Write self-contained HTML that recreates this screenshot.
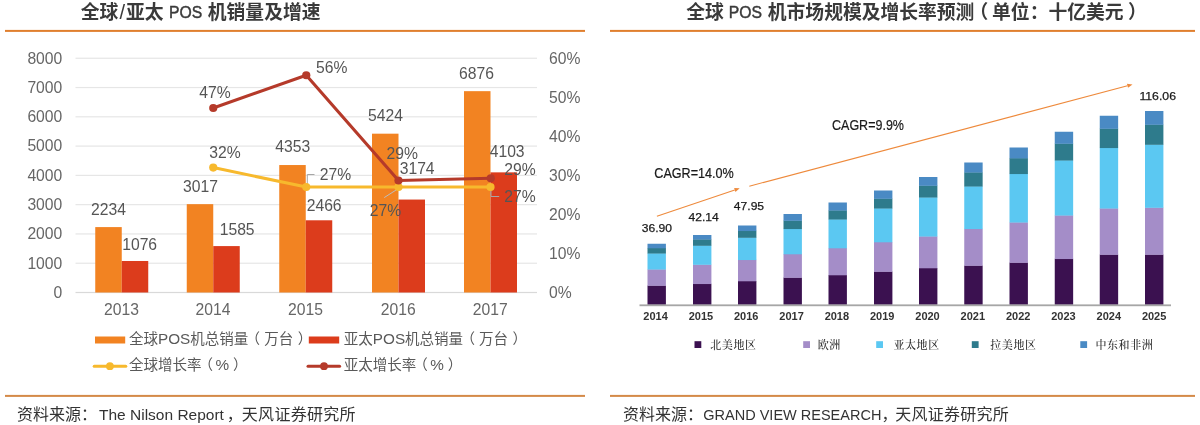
<!DOCTYPE html>
<html lang="zh"><head><meta charset="utf-8"><title>POS</title>
<style>
html,body{margin:0;padding:0;background:#fff;}
body{width:1200px;height:425px;overflow:hidden;position:relative;}
svg{position:absolute;left:0;top:0;display:block;}
text{font-family:"Liberation Sans","Noto Sans CJK SC",sans-serif;}
.t{font-size:18.8px;font-weight:bold;fill:#3a3a3a;}
.tl{font-size:17.4px;fill:#3a3a3a;font-weight:normal;stroke:#3a3a3a;stroke-width:0.45px;}
.sl2{font-size:20px;font-weight:normal;}
.src{font-size:16px;fill:#333;}
.srcl{font-size:15.5px;}
.srcr{font-size:14.5px;}
.ax{font-size:15.7px;fill:#666;}
.dl{font-size:15.7px;fill:#555;}
.lg{font-size:14.5px;fill:#595959;}
.lgl{font-size:15.3px;}
.yr{font-size:11px;font-weight:bold;fill:#333;}
.v{font-size:11.6px;fill:#1a1a1a;stroke:#1a1a1a;stroke-width:0.25px;}
.cg{font-size:14px;fill:#1a1a1a;stroke:#1a1a1a;stroke-width:0.2px;}
.sl{font-family:"Liberation Serif","Noto Serif CJK SC",serif;font-size:11px;letter-spacing:0.55px;fill:#2a2a2a;font-weight:500;}
</style></head><body>
<svg width="1200" height="425" viewBox="0 0 1200 425">

<rect x="5" y="29.9" width="580" height="2" fill="#E07F2E"/>
<rect x="5" y="394.9" width="580" height="2" fill="#D48A48"/>
<rect x="610" y="29.9" width="585" height="2" fill="#E07F2E"/>
<rect x="610" y="394.9" width="585" height="2" fill="#D48A48"/>
<text class="t" y="18.6"><tspan x="80.7">全球</tspan><tspan class="sl2" x="119.6">/</tspan><tspan x="126.1">亚太</tspan><tspan x="207.8">机销量及增速</tspan></text>
<text class="t" y="18.6"><tspan x="686.15">全球</tspan><tspan x="767.8">机市场规模及增长率预测</tspan><tspan x="969.5">（</tspan><tspan x="992.1">单位：十亿美元</tspan><tspan x="1128">）</tspan></text>
<text class="tl" transform="translate(169.0,18.3) scale(0.905,1)">POS</text>
<text class="tl" transform="translate(728.85,18.3) scale(0.905,1)">POS</text>
<text class="src" y="420.2"><tspan x="16.9">资料来源：</tspan><tspan class="srcl" x="99">The Nilson Report</tspan><tspan x="226.7">，</tspan><tspan x="241.8" letter-spacing="0.3">天风证券研究所</tspan></text>
<text class="src" y="420.2"><tspan x="622.9">资料来源：</tspan><tspan class="srcr" x="703.3">GRAND VIEW RESEARCH</tspan><tspan x="881.6">，</tspan><tspan x="895.2" letter-spacing="0.25">天风证券研究所</tspan></text>
<rect x="75.5" y="57.65" width="461.5" height="1.2" fill="#e6e6e6"/>
<text class="ax" x="62.3" y="63.65" text-anchor="end">8000</text>
<rect x="75.5" y="86.93" width="461.5" height="1.2" fill="#e6e6e6"/>
<text class="ax" x="62.3" y="92.93" text-anchor="end">7000</text>
<rect x="75.5" y="116.21" width="461.5" height="1.2" fill="#e6e6e6"/>
<text class="ax" x="62.3" y="122.21" text-anchor="end">6000</text>
<rect x="75.5" y="145.49" width="461.5" height="1.2" fill="#e6e6e6"/>
<text class="ax" x="62.3" y="151.49" text-anchor="end">5000</text>
<rect x="75.5" y="174.78" width="461.5" height="1.2" fill="#e6e6e6"/>
<text class="ax" x="62.3" y="180.78" text-anchor="end">4000</text>
<rect x="75.5" y="204.06" width="461.5" height="1.2" fill="#e6e6e6"/>
<text class="ax" x="62.3" y="210.06" text-anchor="end">3000</text>
<rect x="75.5" y="233.34" width="461.5" height="1.2" fill="#e6e6e6"/>
<text class="ax" x="62.3" y="239.34" text-anchor="end">2000</text>
<rect x="75.5" y="262.62" width="461.5" height="1.2" fill="#e6e6e6"/>
<text class="ax" x="62.3" y="268.62" text-anchor="end">1000</text>
<rect x="75.5" y="291.90" width="461.5" height="1.2" fill="#d9d9d9"/>
<text class="ax" x="62.3" y="297.90" text-anchor="end">0</text>
<text class="ax" x="549" y="63.65">60%</text>
<text class="ax" x="549" y="102.69">50%</text>
<text class="ax" x="549" y="141.73">40%</text>
<text class="ax" x="549" y="180.78">30%</text>
<text class="ax" x="549" y="219.82">20%</text>
<text class="ax" x="549" y="258.86">10%</text>
<text class="ax" x="549" y="297.90">0%</text>
<rect x="95.25" y="227.09" width="26.5" height="65.41" fill="#F28322"/>
<rect x="121.75" y="260.99" width="26.5" height="31.51" fill="#DC3C1C"/>
<text class="ax" x="121.45" y="314.5" text-anchor="middle">2013</text>
<rect x="186.75" y="204.16" width="26.5" height="88.34" fill="#F28322"/>
<rect x="213.25" y="246.09" width="26.5" height="46.41" fill="#DC3C1C"/>
<text class="ax" x="212.95" y="314.5" text-anchor="middle">2014</text>
<rect x="279.25" y="165.04" width="26.5" height="127.46" fill="#F28322"/>
<rect x="305.75" y="220.29" width="26.5" height="72.21" fill="#DC3C1C"/>
<text class="ax" x="305.45" y="314.5" text-anchor="middle">2015</text>
<rect x="372.00" y="133.68" width="26.5" height="158.82" fill="#F28322"/>
<rect x="398.50" y="199.56" width="26.5" height="92.94" fill="#DC3C1C"/>
<text class="ax" x="398.20" y="314.5" text-anchor="middle">2016</text>
<rect x="464.00" y="91.16" width="26.5" height="201.34" fill="#F28322"/>
<rect x="490.50" y="172.36" width="26.5" height="120.14" fill="#DC3C1C"/>
<text class="ax" x="490.20" y="314.5" text-anchor="middle">2017</text>
<path d="M307.3 184.5V174.5H314.5" fill="none" stroke="#a6a6a6" stroke-width="1"/>
<path d="M384.2 197.6L398.3 188.6" fill="none" stroke="#bdbdbd" stroke-width="1"/>
<path d="M491 189V196.5H499.2" fill="none" stroke="#a6a6a6" stroke-width="1"/>
<polyline points="213.25,167.57 306.25,187.00 398.50,187.00 490.50,187.00" fill="none" stroke="#F7B92D" stroke-width="3.1" stroke-linejoin="round" stroke-linecap="round"/>
<circle cx="213.25" cy="167.57" r="4.1" fill="#F7B92D"/>
<circle cx="306.25" cy="187.00" r="4.1" fill="#F7B92D"/>
<circle cx="398.50" cy="187.00" r="4.1" fill="#F7B92D"/>
<circle cx="490.50" cy="187.00" r="4.1" fill="#F7B92D"/>
<polyline points="213.25,108.00 306.25,75.25 398.50,180.50 490.75,178.25" fill="none" stroke="#B53A2A" stroke-width="3.1" stroke-linejoin="round" stroke-linecap="round"/>
<circle cx="213.25" cy="108.00" r="4.1" fill="#B53A2A"/>
<circle cx="306.25" cy="75.25" r="4.1" fill="#B53A2A"/>
<circle cx="398.50" cy="180.50" r="4.1" fill="#B53A2A"/>
<circle cx="490.75" cy="178.25" r="4.1" fill="#B53A2A"/>
<text class="dl" x="91" y="214.5">2234</text>
<text class="dl" x="122.2" y="250">1076</text>
<text class="dl" x="183" y="191.75">3017</text>
<text class="dl" x="219.7" y="234.8">1585</text>
<text class="dl" x="275.3" y="151.75">4353</text>
<text class="dl" x="306.7" y="211.25">2466</text>
<text class="dl" x="368" y="120.75">5424</text>
<text class="dl" x="399.7" y="174.25">3174</text>
<text class="dl" x="459" y="78.75">6876</text>
<text class="dl" x="489.7" y="156.75">4103</text>
<text class="dl" x="199.2" y="97.5">47%</text>
<text class="dl" x="316" y="73.25">56%</text>
<text class="dl" x="386.5" y="158.75">29%</text>
<text class="dl" x="504.2" y="175">29%</text>
<text class="dl" x="209.2" y="157.5">32%</text>
<text class="dl" x="319.7" y="180">27%</text>
<text class="dl" x="369.7" y="216.25">27%</text>
<text class="dl" x="504.2" y="201.75">27%</text>
<rect x="95" y="336.5" width="30.2" height="7" fill="#F28322"/>
<rect x="308.8" y="336.5" width="30.4" height="7" fill="#DC3C1C"/>
<text class="lg" x="129" y="344.2">全球<tspan class="lgl">POS</tspan>机总销量<tspan dx="-2.7">（</tspan><tspan dx="4.2">万台</tspan><tspan dx="4.5">）</tspan></text>
<text class="lg" x="343.8" y="344.2">亚太<tspan class="lgl">POS</tspan>机总销量<tspan dx="-2.7">（</tspan><tspan dx="4.2">万台</tspan><tspan dx="4.5">）</tspan></text>
<path d="M94.2 366.2H125.8" stroke="#F7B92D" stroke-width="3" stroke-linecap="round"/><circle cx="109.9" cy="366.2" r="3.9" fill="#F7B92D"/>
<path d="M308 366.2H339.6" stroke="#B53A2A" stroke-width="3" stroke-linecap="round"/><circle cx="324" cy="366.2" r="3.9" fill="#B53A2A"/>
<text class="lg" x="129" y="370.2">全球增长率<tspan dx="-3">（</tspan><tspan class="lgl" dx="2.5">%</tspan><tspan dx="3.9">）</tspan></text>
<text class="lg" x="343.8" y="370.2">亚太增长率<tspan dx="-3">（</tspan><tspan class="lgl" dx="2.5">%</tspan><tspan dx="3.9">）</tspan></text>
<g>
<rect x="647.5" y="285.5" width="18.4" height="19.30" fill="#3B1150"/>
<rect x="647.5" y="269.25" width="18.4" height="16.55" fill="#A48DC8"/>
<rect x="647.5" y="253.25" width="18.4" height="16.30" fill="#5BC8F2"/>
<rect x="647.5" y="248" width="18.4" height="5.55" fill="#2E7B8C"/>
<rect x="647.5" y="243.75" width="18.4" height="4.55" fill="#4A8AC4"/>
<text class="yr" x="655.60" y="320" text-anchor="middle">2014</text>
<rect x="693" y="283.75" width="18.4" height="21.05" fill="#3B1150"/>
<rect x="693" y="264.5" width="18.4" height="19.55" fill="#A48DC8"/>
<rect x="693" y="245.5" width="18.4" height="19.30" fill="#5BC8F2"/>
<rect x="693" y="239.25" width="18.4" height="6.55" fill="#2E7B8C"/>
<rect x="693" y="235" width="18.4" height="4.55" fill="#4A8AC4"/>
<text class="yr" x="700.92" y="320" text-anchor="middle">2015</text>
<rect x="738" y="281" width="18.4" height="23.80" fill="#3B1150"/>
<rect x="738" y="259.75" width="18.4" height="21.55" fill="#A48DC8"/>
<rect x="738" y="237.5" width="18.4" height="22.55" fill="#5BC8F2"/>
<rect x="738" y="230.75" width="18.4" height="7.05" fill="#2E7B8C"/>
<rect x="738" y="225.5" width="18.4" height="5.55" fill="#4A8AC4"/>
<text class="yr" x="746.24" y="320" text-anchor="middle">2016</text>
<rect x="783.5" y="277.5" width="18.4" height="27.30" fill="#3B1150"/>
<rect x="783.5" y="254" width="18.4" height="23.80" fill="#A48DC8"/>
<rect x="783.5" y="228.75" width="18.4" height="25.55" fill="#5BC8F2"/>
<rect x="783.5" y="220.5" width="18.4" height="8.55" fill="#2E7B8C"/>
<rect x="783.5" y="214" width="18.4" height="6.80" fill="#4A8AC4"/>
<text class="yr" x="791.56" y="320" text-anchor="middle">2017</text>
<rect x="828.5" y="275" width="18.4" height="29.80" fill="#3B1150"/>
<rect x="828.5" y="248" width="18.4" height="27.30" fill="#A48DC8"/>
<rect x="828.5" y="219.25" width="18.4" height="29.05" fill="#5BC8F2"/>
<rect x="828.5" y="210.25" width="18.4" height="9.30" fill="#2E7B8C"/>
<rect x="828.5" y="202.5" width="18.4" height="8.05" fill="#4A8AC4"/>
<text class="yr" x="836.88" y="320" text-anchor="middle">2018</text>
<rect x="874" y="271.5" width="18.4" height="33.30" fill="#3B1150"/>
<rect x="874" y="242" width="18.4" height="29.80" fill="#A48DC8"/>
<rect x="874" y="208.25" width="18.4" height="34.05" fill="#5BC8F2"/>
<rect x="874" y="198.5" width="18.4" height="10.05" fill="#2E7B8C"/>
<rect x="874" y="190.5" width="18.4" height="8.30" fill="#4A8AC4"/>
<text class="yr" x="882.20" y="320" text-anchor="middle">2019</text>
<rect x="919" y="268" width="18.4" height="36.80" fill="#3B1150"/>
<rect x="919" y="236.25" width="18.4" height="32.05" fill="#A48DC8"/>
<rect x="919" y="197.25" width="18.4" height="39.30" fill="#5BC8F2"/>
<rect x="919" y="185.5" width="18.4" height="12.05" fill="#2E7B8C"/>
<rect x="919" y="177" width="18.4" height="8.80" fill="#4A8AC4"/>
<text class="yr" x="927.52" y="320" text-anchor="middle">2020</text>
<rect x="964.25" y="265.5" width="18.4" height="39.30" fill="#3B1150"/>
<rect x="964.25" y="228.75" width="18.4" height="37.05" fill="#A48DC8"/>
<rect x="964.25" y="186.25" width="18.4" height="42.80" fill="#5BC8F2"/>
<rect x="964.25" y="172.25" width="18.4" height="14.30" fill="#2E7B8C"/>
<rect x="964.25" y="162.5" width="18.4" height="10.05" fill="#4A8AC4"/>
<text class="yr" x="972.84" y="320" text-anchor="middle">2021</text>
<rect x="1009.5" y="262.5" width="18.4" height="42.30" fill="#3B1150"/>
<rect x="1009.5" y="222.25" width="18.4" height="40.55" fill="#A48DC8"/>
<rect x="1009.5" y="173.75" width="18.4" height="48.80" fill="#5BC8F2"/>
<rect x="1009.5" y="158.1" width="18.4" height="15.95" fill="#2E7B8C"/>
<rect x="1009.5" y="147.5" width="18.4" height="10.90" fill="#4A8AC4"/>
<text class="yr" x="1018.16" y="320" text-anchor="middle">2022</text>
<rect x="1054.75" y="258.75" width="18.4" height="46.05" fill="#3B1150"/>
<rect x="1054.75" y="215.25" width="18.4" height="43.80" fill="#A48DC8"/>
<rect x="1054.75" y="160.25" width="18.4" height="55.30" fill="#5BC8F2"/>
<rect x="1054.75" y="143.5" width="18.4" height="17.05" fill="#2E7B8C"/>
<rect x="1054.75" y="131.75" width="18.4" height="12.05" fill="#4A8AC4"/>
<text class="yr" x="1063.48" y="320" text-anchor="middle">2023</text>
<rect x="1099.75" y="254.5" width="18.4" height="50.30" fill="#3B1150"/>
<rect x="1099.75" y="208.25" width="18.4" height="46.55" fill="#A48DC8"/>
<rect x="1099.75" y="147.75" width="18.4" height="60.80" fill="#5BC8F2"/>
<rect x="1099.75" y="128.5" width="18.4" height="19.55" fill="#2E7B8C"/>
<rect x="1099.75" y="115.75" width="18.4" height="13.05" fill="#4A8AC4"/>
<text class="yr" x="1108.80" y="320" text-anchor="middle">2024</text>
<rect x="1145" y="254.5" width="18.4" height="50.30" fill="#3B1150"/>
<rect x="1145" y="207.5" width="18.4" height="47.30" fill="#A48DC8"/>
<rect x="1145" y="144.5" width="18.4" height="63.30" fill="#5BC8F2"/>
<rect x="1145" y="124.5" width="18.4" height="20.30" fill="#2E7B8C"/>
<rect x="1145" y="111" width="18.4" height="13.80" fill="#4A8AC4"/>
<text class="yr" x="1154.12" y="320" text-anchor="middle">2025</text>
<rect x="639.5" y="304.4" width="531.5" height="1.8" fill="#a6a6a6"/>
<path d="M656.90 216.30L734.77 189.97" stroke="#EE8A3C" stroke-width="1.1" fill="none"/>
<path d="M739.70 188.30L735.45 191.96L734.10 187.98Z" fill="#EE8A3C"/>
<path d="M749.30 186.20L1127.47 85.83" stroke="#EE8A3C" stroke-width="1.1" fill="none"/>
<path d="M1132.50 84.50L1128.01 87.86L1126.94 83.80Z" fill="#EE8A3C"/>
<text class="cg" x="654.3" y="178" textLength="79.5" lengthAdjust="spacingAndGlyphs">CAGR=14.0%</text>
<text class="cg" x="832" y="130.2" textLength="72" lengthAdjust="spacingAndGlyphs">CAGR=9.9%</text>
<text class="v" x="641.7" y="232.2" textLength="30.3" lengthAdjust="spacingAndGlyphs">36.90</text>
<text class="v" x="688.5" y="220.5" textLength="30.3" lengthAdjust="spacingAndGlyphs">42.14</text>
<text class="v" x="733.8" y="209.5" textLength="30.3" lengthAdjust="spacingAndGlyphs">47.95</text>
<text class="v" x="1139.4" y="99.9" textLength="36.6" lengthAdjust="spacingAndGlyphs">116.06</text>
<rect x="694.5" y="341.2" width="6.8" height="6.8" fill="#3B1150"/>
<text class="sl" x="710.3" y="349">北美地区</text>
<rect x="803.2" y="341.2" width="6.8" height="6.8" fill="#A48DC8"/>
<text class="sl" x="817.8" y="349">欧洲</text>
<rect x="876.2" y="341.2" width="6.8" height="6.8" fill="#5BC8F2"/>
<text class="sl" x="893.5" y="349">亚太地区</text>
<rect x="971.8" y="341.2" width="6.8" height="6.8" fill="#2E7B8C"/>
<text class="sl" x="990.3" y="349">拉美地区</text>
<rect x="1080.3" y="341.2" width="6.8" height="6.8" fill="#4A8AC4"/>
<text class="sl" x="1095.5" y="349">中东和非洲</text>
</g>
</svg></body></html>
